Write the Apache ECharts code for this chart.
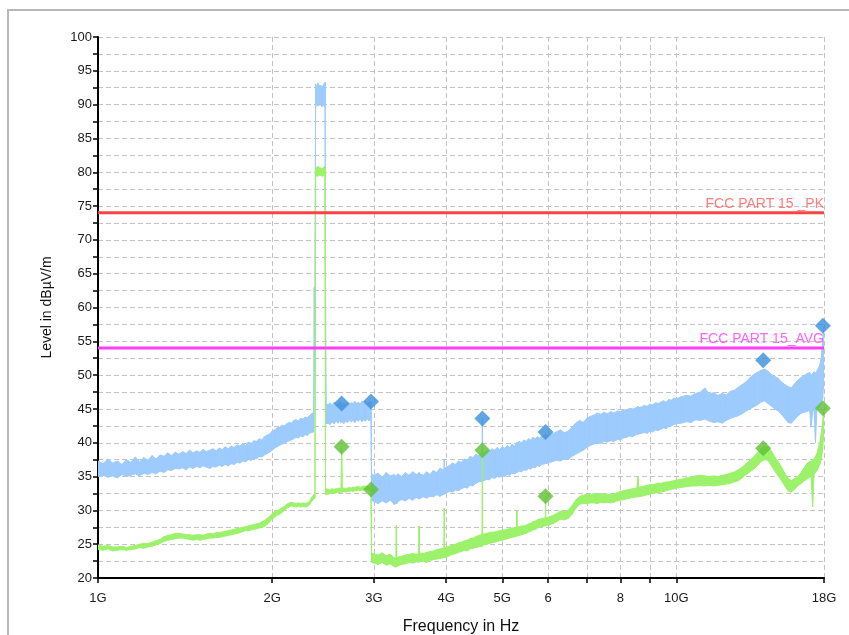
<!DOCTYPE html>
<html><head><meta charset="utf-8">
<script src="https://cdn.jsdelivr.net/npm/echarts@6/dist/echarts.min.js"></script>
<style>html,body{margin:0;padding:0;background:#fff}#c{width:849px;height:635px}</style>
</head><body><div id="c"></div><script>
// ---- axis ticks ----
const xTickGHz = [1,2,3,4,5,6,7,8,9,10,18];
const xLabelGHz = [1,2,3,4,5,6,8,10,18];
const xLabelText = ['1G','2G','3G','4G','5G','6','8','10G','18G'];
const yMin = 20, yMax = 100, yStep = 2.5;

// ---- trace sample frequencies (GHz) ----
const freqGHz = [
1.00,1.02,1.04,1.06,1.08,1.10,1.12,1.14,1.16,1.18,
1.20,1.22,1.24,1.26,1.28,1.30,1.32,1.34,1.36,1.38,
1.40,1.42,1.44,1.46,1.48,1.50,1.52,1.54,1.56,1.58,
1.60,1.62,1.64,1.66,1.68,1.70,1.72,1.74,1.76,1.78,
1.80,1.82,1.84,1.86,1.88,1.90,1.92,1.94,1.96,1.98,
2.00,2.02,2.04,2.06,2.08,2.10,2.12,2.14,2.16,2.18,
2.20,2.22,2.24,2.26,2.28,2.30,2.32,2.34,2.36,
2.366,2.372,2.378,2.39,2.40,2.41,2.42,2.43,2.44,2.45,2.46,2.47,2.474,2.48,
2.50,2.52,2.54,2.56,2.58,2.60,2.62,2.63,2.638,2.645,
2.66,2.68,2.70,2.72,2.74,2.76,2.78,2.80,2.82,2.84,
2.86,2.88,2.90,2.92,2.94,2.96,2.965,2.972,
3.00,3.05,3.10,3.15,3.20,3.25,3.275,3.28,3.285,3.30,
3.35,3.40,3.45,3.50,3.55,3.585,3.59,3.595,3.65,3.70,
3.75,3.80,3.85,3.90,3.965,3.97,3.975,4.00,4.05,4.10,
4.15,4.20,4.25,4.30,4.35,4.40,4.45,4.50,4.55,4.615,
4.62,4.625,4.65,4.70,4.75,4.80,4.85,4.90,4.95,5.00,
5.05,5.10,5.15,5.20,5.25,5.295,5.30,5.305,5.35,5.40,
5.45,5.50,5.55,5.60,5.65,5.70,5.75,5.80,5.85,5.935,
5.94,5.945,6.00,
6.1,6.2,6.3,6.4,6.5,6.6,6.7,6.8,6.9,7.0,
7.1,7.2,7.3,7.4,7.5,7.6,7.7,7.8,7.9,8.0,
8.1,8.2,8.3,8.4,8.55,8.58,8.61,8.7,8.8,8.9,
9.0,9.1,9.2,9.3,9.4,9.5,9.6,9.7,9.8,9.9,
10.0,
10.2,10.4,10.6,10.8,11.0,11.2,11.4,11.6,11.8,12.0,
12.2,12.4,12.6,12.8,13.0,13.2,13.4,13.6,13.8,14.0,
14.2,14.4,14.6,14.8,15.0,15.2,15.4,15.6,15.8,16.0,
16.2,16.4,16.6,16.8,17.0,17.1,17.2,17.3,17.4,17.5,
17.6,17.7,17.8,17.9,17.95,18.0
];

// ---- peak trace (light blue): lower and upper edge of the noise band, dBµV/m ----
const peakLow = [
35.0,35.2,34.9,35.1,34.8,35.3,35.0,35.2,35.4,35.1,
35.5,35.3,35.6,35.4,35.8,35.6,36.0,35.9,36.2,36.1,
36.3,36.0,36.4,36.2,36.5,36.3,36.6,36.4,36.2,36.5,
36.4,36.7,36.5,36.8,36.6,36.9,36.8,37.1,37.0,37.3,
37.2,37.5,37.4,37.7,37.6,38.0,37.9,38.2,38.4,38.6,
38.9,39.2,39.4,39.6,39.8,39.9,40.1,40.3,40.4,40.6,
40.8,40.7,41.0,40.9,41.2,41.1,41.4,41.5,41.6,
50.5,51.0,89.6,90.2,89.8,90.3,89.9,90.4,89.7,90.1,89.8,89.6,50.0,42.8,
42.9,42.7,43.1,42.8,43.2,42.9,43.3,43.0,43.2,43.1,
42.8,43.2,43.0,43.4,43.1,43.3,43.0,43.4,43.2,43.5,
43.1,43.4,43.2,43.5,43.3,43.4,43.4,31.5,
31.3,31.0,31.4,31.1,31.5,30.9,31.0,31.2,31.0,31.3,
31.6,31.4,31.8,31.5,31.9,31.7,31.8,31.7,32.0,31.8,
32.1,32.0,32.3,32.1,32.4,32.5,32.4,32.6,32.8,32.7,
33.0,32.9,33.2,33.4,33.3,33.7,33.6,34.0,34.2,34.3,
34.5,34.4,34.4,34.6,34.5,34.9,34.7,35.0,34.9,35.1,
35.0,35.3,35.2,35.5,35.4,35.6,35.7,35.6,35.8,35.7,
36.0,35.9,36.2,36.1,36.4,36.3,36.6,36.5,36.8,36.9,
37.0,36.9,37.0,
37.2,37.4,37.3,37.6,37.5,38.0,38.3,38.6,38.9,39.3,
39.6,39.8,40.0,39.9,40.2,40.1,40.3,40.2,40.5,40.4,
40.7,40.8,41.0,40.9,41.3,41.2,41.3,41.4,41.5,41.4,
41.7,41.6,41.9,41.8,42.0,42.2,42.1,42.4,42.5,42.7,
42.8,
42.9,43.1,43.0,43.4,43.3,43.5,43.2,43.0,43.1,42.9,
43.3,43.6,43.8,44.0,44.3,44.7,45.0,45.3,45.6,46.0,
46.2,45.8,45.4,45.0,44.7,44.2,43.6,43.0,42.9,43.4,
43.9,44.3,44.5,44.6,44.8,42.3,44.6,44.9,40.0,45.0,
45.2,45.4,45.8,46.5,48.0,52.0
];
const peakHigh = [
37.3,36.9,37.6,37.0,37.3,36.8,37.5,37.1,37.9,37.2,
37.8,37.4,38.1,37.6,38.2,38.0,38.5,38.1,38.6,38.3,
38.7,38.4,38.9,38.5,38.8,38.6,39.0,38.7,38.9,39.1,
38.8,39.2,39.0,39.4,39.1,39.5,39.3,39.7,39.5,39.9,
39.6,40.1,39.9,40.3,40.2,40.6,40.4,40.9,41.1,41.3,
41.7,41.9,42.2,42.3,42.6,42.5,42.8,43.0,42.9,43.3,
43.4,43.2,43.6,43.5,43.8,43.7,44.0,44.3,44.5,
63.0,52.5,93.0,92.6,93.2,92.4,92.9,92.2,92.8,92.5,93.1,93.3,62.5,45.8,
45.6,45.9,45.5,46.0,45.7,45.8,46.1,45.6,45.8,45.7,
45.9,45.6,46.0,45.7,45.9,45.8,46.1,45.8,46.0,45.7,
46.1,45.9,46.2,45.8,46.0,46.1,46.1,35.4,
35.2,35.5,34.9,35.6,35.1,35.3,35.0,35.1,35.2,35.4,
35.0,35.6,35.2,35.7,35.3,35.5,35.6,35.4,35.2,35.7,
35.3,35.9,35.6,36.2,36.0,37.5,36.1,36.4,36.6,37.0,
36.8,37.3,37.1,37.6,37.4,38.0,37.8,38.3,38.1,38.6,
43.6,38.7,38.5,38.9,38.7,39.1,38.9,39.3,39.0,39.4,
39.2,39.6,39.3,39.8,39.5,40.0,40.1,39.9,40.2,40.0,
40.4,40.2,40.6,40.4,40.8,40.6,40.9,40.7,41.0,41.0,
41.4,41.1,41.1,
41.3,41.6,41.9,41.5,41.7,42.3,42.9,43.3,43.0,43.6,
43.9,44.1,44.4,44.2,44.5,44.3,44.6,44.4,44.7,44.6,
44.9,44.8,45.1,45.0,45.2,45.4,45.2,45.3,45.5,45.4,
45.7,45.6,45.9,45.8,46.0,46.2,46.0,46.4,46.3,46.6,
46.5,
46.8,47.0,46.9,47.3,47.5,48.1,47.2,47.4,47.0,47.3,
47.1,47.6,47.8,48.2,48.6,49.0,49.6,50.1,50.4,50.7,
50.9,50.6,50.1,49.8,49.5,49.0,48.6,48.3,48.1,48.7,
49.2,49.6,49.9,50.2,50.4,50.0,50.2,50.5,50.3,50.6,
51.0,51.5,52.5,55.0,56.0,57.2
];

// ---- average trace (light green): lower and upper edge ----
const avgLow = [
24.2,24.1,24.3,24.0,24.1,24.2,24.1,24.2,24.3,24.5,
24.4,24.6,24.7,24.9,25.1,25.4,25.6,25.7,25.8,25.9,
25.9,25.8,25.7,25.6,25.7,25.6,25.7,25.8,25.9,25.9,
26.0,26.0,26.1,26.2,26.3,26.4,26.5,26.6,26.7,26.9,
27.0,27.0,27.1,27.2,27.3,27.4,27.5,27.6,27.9,28.3,
28.7,29.0,29.3,29.4,29.7,30.0,30.3,30.5,30.7,30.6,
30.5,30.6,30.5,30.6,30.5,30.6,30.8,31.3,31.7,
31.8,31.9,79.3,79.6,79.4,79.8,79.5,79.7,79.4,79.6,79.5,79.3,32.3,32.4,
32.4,32.5,32.6,32.5,32.6,32.7,32.6,32.7,32.7,32.7,
32.8,32.7,32.8,32.8,32.9,32.8,32.9,32.9,33.0,32.9,
33.0,33.0,33.0,33.1,33.0,33.1,32.9,22.3,
22.2,22.0,22.3,21.9,22.1,21.7,21.6,21.8,21.7,21.8,
22.0,22.1,22.3,22.2,22.4,22.3,22.4,22.4,22.5,22.3,
22.6,22.7,22.8,22.9,23.0,23.0,23.1,23.0,23.3,23.5,
23.6,23.8,23.9,24.1,24.0,24.3,24.4,24.5,24.6,24.7,
24.8,24.8,24.9,25.0,25.1,25.2,25.3,25.4,25.5,25.6,
25.7,25.8,25.9,26.0,26.1,26.2,26.2,26.2,26.3,26.4,
26.5,26.6,26.8,26.9,27.1,27.2,27.4,27.5,27.6,27.7,
27.8,27.8,27.8,
28.0,28.3,28.7,28.6,28.8,29.4,30.3,30.9,31.0,31.0,
31.1,31.1,31.0,31.2,31.1,31.2,31.1,31.2,31.4,31.5,
31.6,31.7,31.8,31.9,32.0,32.0,32.0,32.1,32.2,32.3,
32.4,32.5,32.6,32.6,32.7,32.8,32.9,33.0,33.1,33.2,
33.3,
33.4,33.5,33.6,33.6,33.7,33.6,33.7,33.6,33.7,33.8,
33.9,34.0,34.2,34.4,34.8,35.3,35.7,36.1,36.6,37.2,
37.5,37.4,36.6,35.8,35.1,34.4,33.6,32.9,32.7,33.1,
33.6,33.9,34.3,34.6,34.9,35.0,30.5,35.3,35.6,35.9,
36.3,36.8,37.5,39.0,40.5,42.0
];
const avgHigh = [
24.9,24.7,24.8,24.6,24.6,24.7,24.5,24.7,24.8,25.0,
25.1,25.1,25.3,25.5,25.7,26.1,26.3,26.4,26.6,26.6,
26.5,26.4,26.4,26.3,26.4,26.4,26.3,26.5,26.6,26.5,
26.7,26.7,26.8,26.9,27.0,27.1,27.2,27.3,27.4,27.5,
27.6,27.7,27.8,27.9,28.0,28.1,28.3,28.5,28.8,29.1,
29.5,29.8,30.0,30.1,30.4,30.6,30.9,31.1,31.2,31.1,
31.0,31.1,31.0,31.1,31.0,31.1,31.3,31.9,32.3,
32.4,32.4,80.8,80.6,80.9,80.5,80.7,80.4,80.6,80.5,80.8,80.9,33.1,33.2,
33.1,33.0,33.2,33.1,33.2,33.2,33.3,33.2,39.4,33.2,
33.3,33.2,33.3,33.4,33.3,33.4,33.4,33.5,33.5,33.4,
33.5,33.6,33.5,33.6,33.5,33.6,33.5,23.7,
23.6,23.4,23.7,23.3,23.5,23.0,22.9,27.8,23.0,23.1,
23.2,23.4,23.5,23.6,23.5,23.6,27.7,23.7,23.6,23.8,
23.9,24.0,24.2,24.3,24.4,30.3,24.4,24.6,24.7,24.9,
25.0,25.2,25.3,25.5,25.6,25.8,25.9,26.1,26.3,26.4,
38.9,26.5,26.5,26.6,26.7,26.8,26.8,26.9,27.0,27.1,
27.1,27.2,27.3,27.4,27.4,27.5,29.9,27.5,27.6,27.7,
27.7,27.8,28.0,28.1,28.3,28.4,28.6,28.7,28.8,28.9,
32.1,28.9,29.0,
29.2,29.5,29.9,29.8,30.0,30.7,31.5,32.1,32.2,32.4,
32.3,32.5,32.4,32.5,32.3,32.4,32.3,32.4,32.6,32.8,
32.9,33.0,33.1,33.2,33.3,34.9,33.4,33.5,33.6,33.7,
33.8,33.8,33.9,34.0,34.0,34.1,34.2,34.2,34.3,34.4,
34.5,
34.6,34.8,34.9,35.1,35.2,35.1,35.0,35.1,35.0,35.2,
35.3,35.5,35.7,36.0,36.4,36.9,37.4,37.9,38.5,39.1,
39.5,39.3,38.8,37.9,37.2,36.4,35.5,34.7,34.4,34.7,
35.0,35.5,36.2,36.9,37.2,37.3,37.4,37.6,38.0,38.4,
39.2,40.0,41.2,43.0,44.0,45.0
];

// ---- final measurement markers ----
const markerGHz   = [2.638, 2.965, 4.62, 5.94, 14.13, 17.92];
const markerPeak  = [45.8, 46.1, 43.6, 41.6, 52.2, 57.3];
const markerAvg   = [39.4, 33.1, 38.9, 32.1, 39.2, 45.1];

// ---- limit lines ----
const limitNames  = ['FCC PART 15 _PK', 'FCC PART 15_AVG'];
const limitValues = [74, 54];
const limitRange  = [1, 18];

// ---- build ----
const lg = Math.log10;
const n = freqGHz.length;
if (peakLow.length !== n || peakHigh.length !== n || avgLow.length !== n || avgHigh.length !== n) {
  throw new Error('length mismatch ' + [n, peakLow.length, peakHigh.length, avgLow.length, avgHigh.length].join(','));
}
const FONT = 'Liberation Sans';
const BLUE = '#9dcbfd', GREEN = '#9cf26a';

// noise band: filled polygon between lower and upper edge, drawn segment by segment via the axis scales
function bandSeries(low, high, color) {
  return {
    type: 'custom', coordinateSystem: 'cartesian2d', silent: true, animation: false, clip: true,
    encode: { x: 0, y: [1, 2] },
    data: freqGHz.map((f, i) => [lg(f), low[i], high[i]]),
    renderItem: (params, api) => {
      const i = params.dataIndex;
      if (i >= n - 1) return null;
      const x0 = api.value(0), x1 = lg(freqGHz[i + 1]);
      const pts = [
        api.coord([x0, api.value(1)]), api.coord([x0, api.value(2)]),
        api.coord([x1, high[i + 1]]), api.coord([x1, low[i + 1]])
      ];
      return { type: 'polygon', shape: { points: pts },
        style: { fill: color, stroke: color, lineWidth: 1, lineJoin: 'round' } };
    }
  };
}

function limitSeries(idx, color) {
  return {
    type: 'line', symbol: 'none', showSymbol: false, silent: true, animation: false,
    lineStyle: { color: color, width: 3 },
    data: [[lg(limitRange[0]), limitValues[idx]], [lg(limitRange[1]), limitValues[idx]]]
  };
}
function limitLabel(idx, textColor) {
  return {
    type: 'scatter', symbol: 'circle', symbolSize: 1, silent: true, animation: false,
    itemStyle: { color: 'rgba(0,0,0,0)' },
    data: [[lg(limitRange[1]), limitValues[idx]]],
    label: { show: true, position: 'top', align: 'right', distance: 1,
      formatter: limitNames[idx], color: textColor, fontSize: 14, fontFamily: FONT }
  };
}

const chart = echarts.init(document.getElementById('c'), null, { renderer: 'canvas' });
const dashed = { show: true, lineStyle: { color: '#c4c4c4', type: [5, 3], width: 1 } };

chart.setOption({
  animation: false,
  backgroundColor: '#fff',
  graphic: [{ type: 'rect', silent: true, z: -10,
    shape: { x: 8, y: 10, width: 900, height: 700 },
    style: { fill: 'none', stroke: '#b8b8b8', lineWidth: 2 } }],
  grid: { left: 98, top: 37, width: 726, height: 541, containLabel: false, outerBoundsMode: 'none' },
  xAxis: {
    type: 'value', min: 0, max: lg(18),
    name: 'Frequency in Hz', nameLocation: 'middle', nameGap: 41,
    nameTextStyle: { fontFamily: FONT, fontSize: 16, color: '#111' },
    axisLine: { show: true, lineStyle: { color: '#000', width: 2 } },
    axisTick: { show: true, length: 5, lineStyle: { color: '#000', width: 1.5 },
      customValues: xTickGHz.map(lg) },
    axisLabel: { customValues: xLabelGHz.map(lg), margin: 14,
      fontFamily: FONT, fontSize: 13, color: '#1a1a1a',
      formatter: v => { for (let i = 0; i < xLabelGHz.length; i++) { if (Math.abs(lg(xLabelGHz[i]) - v) < 1e-6) return xLabelText[i]; } return ''; } },
    splitLine: dashed
  },
  yAxis: {
    type: 'value', min: yMin, max: yMax, interval: yStep,
    name: 'Level in dBµV/m', nameLocation: 'middle', nameGap: 44, nameRotate: 90,
    nameTextStyle: { fontFamily: FONT, fontSize: 14, color: '#111' },
    axisLine: { show: true, lineStyle: { color: '#000', width: 2 } },
    axisTick: { show: true, length: 5, lineStyle: { color: '#000', width: 1.5 } },
    axisLabel: { margin: 6, fontFamily: FONT, fontSize: 13, color: '#1a1a1a',
      formatter: v => (Math.abs(v % 5) < 1e-9 ? String(v) : '') },
    splitLine: dashed
  },
  series: [
    bandSeries(peakLow, peakHigh, BLUE),
    bandSeries(avgLow, avgHigh, GREEN),
    limitSeries(0, '#ff4343'),
    limitSeries(1, '#ff3cff'),
    limitLabel(0, '#ff5c5c'),
    limitLabel(1, '#ff3cff'),
    { type: 'scatter', symbol: 'diamond', symbolSize: 16, silent: true, animation: false,
      itemStyle: { color: '#3a8fdc' },
      data: markerGHz.map((f, i) => [lg(f), markerPeak[i]]) },
    { type: 'scatter', symbol: 'diamond', symbolSize: 16, silent: true, animation: false,
      itemStyle: { color: '#5ec032' },
      data: markerGHz.map((f, i) => [lg(f), markerAvg[i]]) }
  ]
});
</script></body></html>
